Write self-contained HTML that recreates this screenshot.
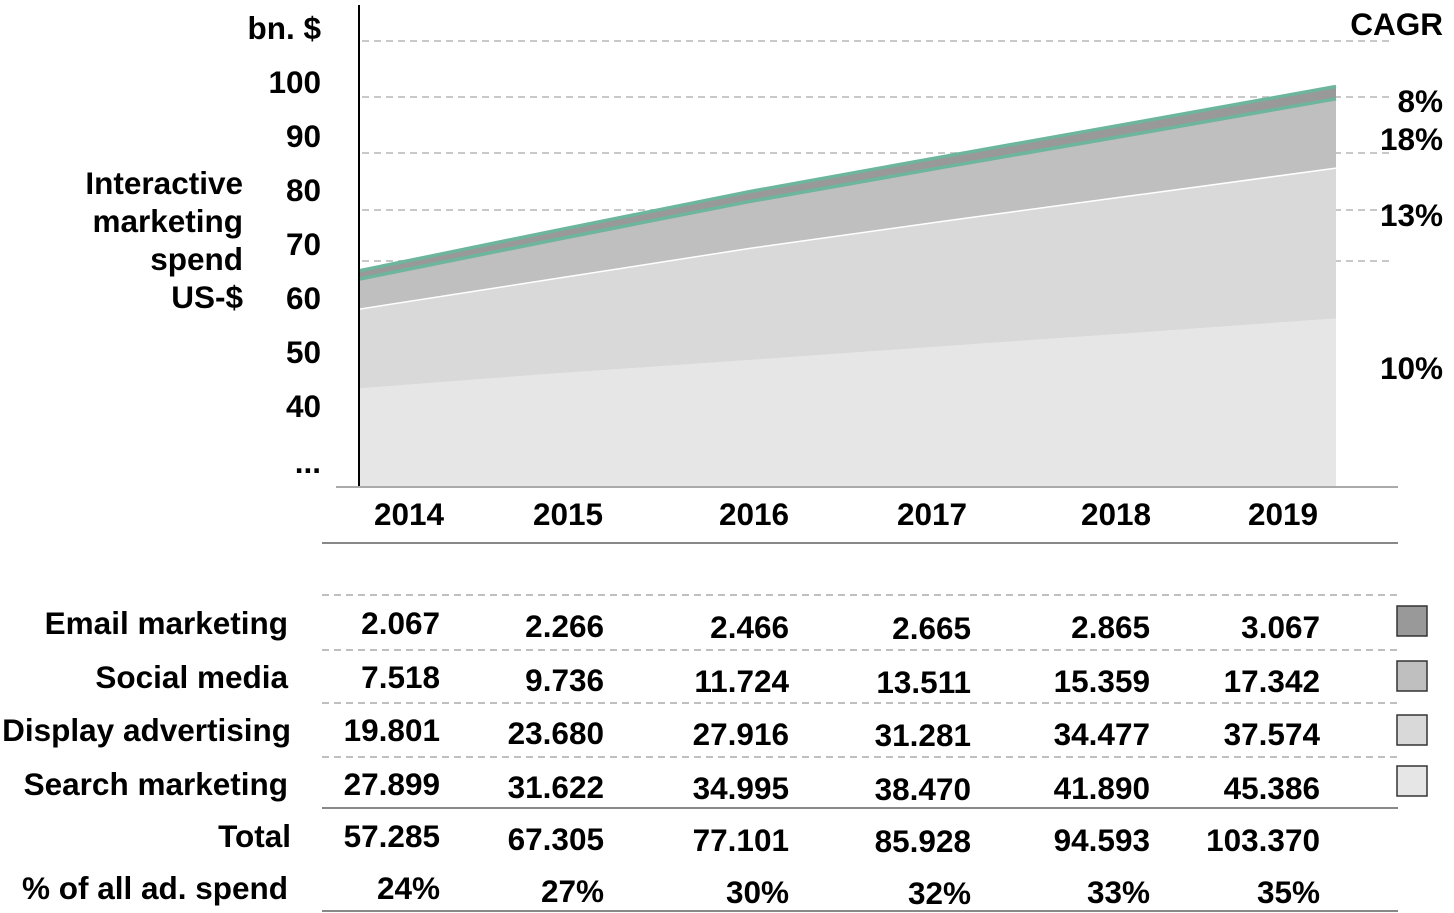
<!DOCTYPE html>
<html><head><meta charset="utf-8"><style>
body{margin:0;background:#fff;}
svg{display:block;font-family:"Liberation Sans",sans-serif;font-weight:bold;}
</style></head><body>
<svg id="c" width="1454" height="913" viewBox="0 0 1454 913"></svg>
<script>
const years=["2014","2015","2016","2017","2018","2019"];
const email=[2.067,2.266,2.466,2.665,2.865,3.067];
const social=[7.518,9.736,11.724,13.511,15.359,17.342];
const display=[19.801,23.680,27.916,31.281,34.477,37.574];
const search=[27.899,31.622,34.995,38.470,41.890,45.386];
const totals=[57.285,67.305,77.101,85.928,94.593,103.370];
const shares=["24%","27%","30%","32%","33%","35%"];
const yTicks=["100","90","80","70","60","50","40","..."];
const cagr=["8%","18%","13%","10%"];

const NS="http://www.w3.org/2000/svg";
const svg=document.getElementById('c');
const FS=31.5;
function mk(t,a,txt){const e=document.createElementNS(NS,t);for(const k in a)e.setAttribute(k,a[k]);if(txt!==undefined)e.textContent=txt;svg.appendChild(e);return e;}
const x=i=>359+i*(1336-359)/(years.length-1);
const y=v=>500-4.0*v;

[41,97,153,210,261].forEach(gy=>{const l=mk('line',{x1:362,x2:1392,y1:gy,y2:gy,stroke:'#c8c8c8','stroke-width':2,'stroke-dasharray':'7,5'});
});

const layers=[[search,'#e6e6e6','area-search-marketing'],[display,'#d9d9d9','area-display-advertising'],[social,'#bfbfbf','area-social-media'],[email,'#999999','area-email-marketing']];
let base=years.map(()=>0);
const tops=[];
layers.forEach(([arr,col,name],li)=>{
  const top=base.map((b,i)=>b+arr[i]);
  let d='M'+years.map((_,i)=>x(i)+','+y(top[i])).join(' L');
  for(let i=years.length-1;i>=0;i--)d+=' L'+x(i)+','+(li===0?487:y(base[i]));
  const p=mk('path',{d:d+'Z',fill:col});
  
  tops.push(top);base=top;
});
function line(arr,col,w,name){const l=mk('polyline',{points:years.map((_,i)=>x(i)+','+y(arr[i])).join(' '),fill:'none',stroke:col,'stroke-width':w});
}
line(tops[1],'#ffffff',1.5,'display-top-line');
line(tops[2],'#6db59c',3.5,'social-top-line');
line(tops[3],'#6db59c',3.5,'total-top-line');

let a=mk('line',{x1:359,x2:359,y1:5,y2:487,stroke:'#000','stroke-width':2});
a=mk('line',{x1:336,x2:1398,y1:487,y2:487,stroke:'#aaa','stroke-width':2});

let t=mk('text',{x:321,y:39,'font-size':FS,'text-anchor':'end'},'bn. $');
yTicks.forEach((s,i)=>{const tt=mk('text',{x:321,y:i<7?93+i*54:473,'font-size':FS,'text-anchor':'end'},s);
});
["Interactive","marketing","spend","US-$"].forEach((s,i)=>{const tt=mk('text',{x:243,y:194+i*38,'font-size':FS,'text-anchor':'end'},s);
});

t=mk('text',{x:1443,y:35,'font-size':FS,'text-anchor':'end'},'CAGR');
const cagrY=[112,150,226,379];
cagr.forEach((s,i)=>{const tt=mk('text',{x:1443,y:cagrY[i],'font-size':FS,'text-anchor':'end'},s);
});

const yearX=[409,568,754,932,1116,1283];
years.forEach((s,i)=>{const tt=mk('text',{x:yearX[i],y:525,'font-size':FS,'text-anchor':'middle'},s);
});

a=mk('line',{x1:322,x2:1398,y1:543,y2:543,stroke:'#888','stroke-width':2});
[595,650,703,757].forEach(ly=>{const l=mk('line',{x1:322,x2:1398,y1:ly,y2:ly,stroke:'#aaa','stroke-width':1.5,'stroke-dasharray':'7,5'});
});
[808,911].forEach(ly=>{const l=mk('line',{x1:322,x2:1398,y1:ly,y2:ly,stroke:'#888','stroke-width':2});
});

const rowNames=["Email marketing","Social media","Display advertising","Search marketing","Total","% of all ad. spend"];
const rowY=[634,688,741,795,847,899];
const rowX=[288,288,291,288,291,288];
rowNames.forEach((s,i)=>{const tt=mk('text',{x:rowX[i],y:rowY[i],'font-size':FS,'text-anchor':'end'},s);
});

const colR=[440,604,789,971,1150,1320];
const colOff=[0,3,4,5,4,4];
const fmt=v=>v.toFixed(3);
const rows=[email.map(fmt),social.map(fmt),display.map(fmt),search.map(fmt),totals.map(fmt),shares];
rows.forEach((r,ri)=>r.forEach((s,ci)=>{const tt=mk('text',{x:colR[ci],y:rowY[ri]+colOff[ci],'font-size':FS,'text-anchor':'end'},s);
}));

const legY=[606,661,715,766];
const legC=['#999999','#bfbfbf','#d9d9d9','#e6e6e6'];
legY.forEach((ly,i)=>{const r=mk('rect',{x:1397,y:ly,width:30,height:30,fill:legC[i],stroke:'#333','stroke-width':1.5});
});
</script>
</body></html>
